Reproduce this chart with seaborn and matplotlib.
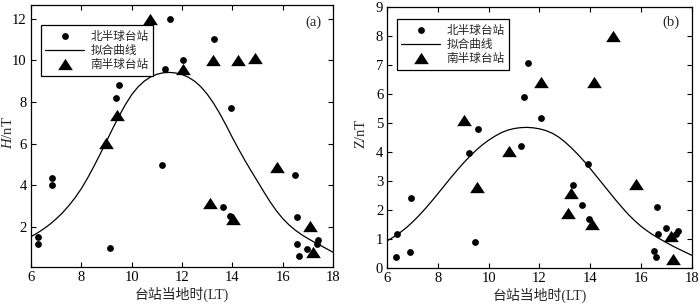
import numpy as np
import pandas as pd
import matplotlib
matplotlib.use("Agg")
import matplotlib.pyplot as plt
from matplotlib.lines import Line2D
import seaborn as sns

# ---------------- data ----------------
# panel (a): H component
north_x_a = [6.28, 6.28, 6.85, 6.83, 9.15, 9.39, 9.50, 11.20, 11.32, 11.52, 12.03,
             13.26, 13.62, 13.91, 13.95, 16.49, 16.56, 16.56, 16.66, 16.98, 17.38, 17.42]
north_h = [1.52, 1.20, 4.34, 4.02, 0.99, 8.20, 8.81, 5.00, 9.60, 12.00, 10.00,
           11.00, 2.99, 2.54, 7.69, 4.50, 2.51, 1.20, 0.63, 0.95, 1.18, 1.39]
south_x_a = [8.97, 9.43, 10.72, 12.02, 13.11, 13.24, 14.04, 14.23, 14.89, 15.79, 17.09, 17.22]
south_h = [6.02, 7.37, 12.00, 9.60, 3.18, 10.00, 2.38, 10.00, 10.10, 4.90, 2.08, 0.83]

# panel (b): Z component
north_x_b = [6.37, 6.33, 6.92, 6.89, 9.22, 9.46, 9.59, 11.26, 11.39, 11.56, 12.05,
             13.31, 13.66, 13.92, 13.96, 16.52, 16.62, 16.59, 16.68, 16.99, 17.40, 17.45]
north_z = [1.18, 0.40, 2.43, 0.57, 3.99, 0.90, 4.79, 4.22, 5.89, 7.07, 5.17,
           2.87, 2.18, 3.60, 1.70, 0.61, 2.10, 0.40, 1.18, 1.40, 1.20, 1.30]
south_x_b = [9.02, 9.52, 10.80, 12.04, 13.14, 13.24, 14.08, 14.16, 14.91, 15.80, 17.18, 17.27]
south_z = [5.11, 2.79, 4.06, 6.44, 1.90, 2.59, 1.53, 6.44, 8.01, 2.91, 1.11, 0.32]

# fitted curves
curve_x = [6.0, 6.25, 6.5, 6.75, 7.0, 7.25, 7.5, 7.75, 8.0, 8.25, 8.5, 8.75, 9.0,
           9.25, 9.5, 9.75, 10.0, 10.25, 10.5, 10.75, 11.0, 11.25, 11.5, 11.75, 12.0,
           12.25, 12.5, 12.75, 13.0, 13.25, 13.5, 13.75, 14.0, 14.25, 14.5, 14.75, 15.0,
           15.25, 15.5, 15.75, 16.0, 16.25, 16.5, 16.75, 17.0, 17.25, 17.5, 17.75, 18.0]
curve_h = [1.55, 1.72, 1.92, 2.14, 2.40, 2.69, 3.03, 3.41, 3.85, 4.36, 4.92, 5.51, 6.12,
           6.74, 7.33, 7.875, 8.35, 8.72, 9.00, 9.20, 9.33, 9.40, 9.42, 9.39, 9.32,
           9.19, 9.00, 8.73, 8.38, 7.95, 7.45, 6.89, 6.30, 5.74, 5.20, 4.69, 4.20,
           3.70, 3.22, 2.79, 2.42, 2.115, 1.86, 1.645, 1.46, 1.29, 1.13, 0.965, 0.80]
curve_z = [0.95, 1.08, 1.23, 1.40, 1.60, 1.82, 2.06, 2.315, 2.58, 2.85, 3.12, 3.38, 3.63,
           3.86, 4.07, 4.26, 4.42, 4.56, 4.68, 4.765, 4.82, 4.85, 4.86, 4.845, 4.81,
           4.75, 4.66, 4.53, 4.36, 4.16, 3.94, 3.70, 3.44, 3.17, 2.90, 2.63, 2.36,
           2.105, 1.86, 1.645, 1.45, 1.285, 1.14, 1.01, 0.89, 0.77, 0.66, 0.555, 0.45]

xticks = [6, 8, 10, 12, 14, 16, 18]
yticks_a = [2, 4, 6, 8, 10, 12]
yticks_b = [0, 1, 2, 3, 4, 5, 6, 7, 8, 9]
legend_labels = ["北半球台站", "拟合曲线", "南半球台站"]
xlabel = "台站当地时(LT)"

# ---------------- style ----------------
sns.set_style("ticks")
plt.rcParams['font.family'] = ['Liberation Serif', 'Noto Sans CJK SC']
plt.rcParams['mathtext.fontset'] = 'custom'
plt.rcParams['mathtext.it'] = 'Liberation Serif:italic'
plt.rcParams['mathtext.rm'] = 'Liberation Serif'
plt.rcParams['axes.edgecolor'] = 'black'
plt.rcParams['axes.linewidth'] = 0.9

tri = [(0, 0.77), (-1, -0.77), (1, -0.77)]

fig = plt.figure(figsize=(7, 3.06), dpi=100)
axA = fig.add_axes([0.0443, 0.1265, 0.4314, 0.8572])
axB = fig.add_axes([0.5533, 0.1232, 0.4348, 0.8529])


def draw(ax, nx, ny, sx, sy, cy, yticks, ylim, ylabel, ylabpos, tag, tagpos, legpos):
    sns.scatterplot(x=nx, y=ny, ax=ax, color='black', marker='o', s=24,
                    linewidth=0, legend=False, zorder=3)
    sns.lineplot(x=curve_x, y=cy, ax=ax, color='black', lw=0.9, legend=False, zorder=2)
    sns.scatterplot(x=sx, y=sy, ax=ax, color='black', marker=tri, s=112,
                    linewidth=0, legend=False, zorder=3)
    ax.set_xlim(6, 18)
    ax.set_ylim(*ylim)
    ax.set_xticks(xticks)
    ax.set_yticks(yticks)
    ax.tick_params(direction='in', top=True, right=True, length=3.5, width=0.8,
                   labelsize=10.5, pad=3, colors='black')
    for sp in ax.spines.values():
        sp.set_visible(True)
        sp.set_color('black')
    ax.set_xlabel(xlabel, fontsize=10, labelpad=2)
    ax.set_ylabel(ylabel, fontsize=10.5)
    ax.yaxis.set_label_coords(*ylabpos)
    ax.text(tagpos[0], tagpos[1], tag, transform=ax.transAxes, ha='center',
            va='center', fontsize=10.5)
    handles = [
        Line2D([], [], marker='o', ls='none', color='black', markersize=4.9, markeredgewidth=0),
        Line2D([], [], color='black', lw=0.9),
        Line2D([], [], marker=tri, ls='none', color='black', markersize=10.6, markeredgewidth=0),
    ]
    leg = ax.legend(handles, legend_labels, loc='upper left', bbox_to_anchor=legpos,
                    prop={'family': ['Noto Sans CJK SC'], 'size': 8.4},
                    frameon=True, fancybox=False, edgecolor='black', framealpha=1,
                    borderpad=0.4, handlelength=3.3, handletextpad=0.55,
                    labelspacing=0.1, borderaxespad=0)
    leg.get_frame().set_linewidth(0.9)


draw(axA, north_x_a, north_h, south_x_a, south_h, curve_h, yticks_a, (0.08, 12.65),
     '$\\mathit{H}$/nT', (-0.052, 0.512), '(a)', (0.934, 0.933), (0.032, 0.924))
draw(axB, north_x_b, north_z, south_x_b, south_z, curve_z, yticks_b, (0, 9),
     'Z/nT', (-0.066, 0.517), '(b)', (0.931, 0.941), (0.031, 0.954))

fig.savefig('out.png', dpi=100)
